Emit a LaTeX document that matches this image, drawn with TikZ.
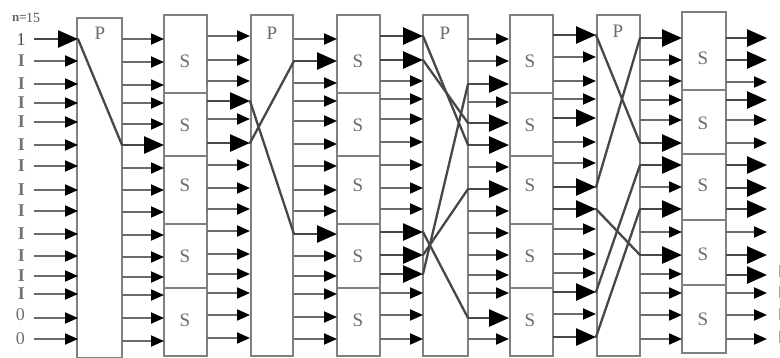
\documentclass[tikz,border=0pt]{standalone}
\usepackage{fontspec}
\setmainfont{Liberation Serif}
\usetikzlibrary{arrows.meta}
\tikzset{
  x=1pt,y=-1pt,
  boxfr/.style={draw=black!50,line width=1.9pt,fill=white,inner sep=0pt,minimum width=0pt},
  wire/.style={draw=black!58,line width=1.9pt,-{Triangle[length=13pt,width=11pt,color=black]}},
  heavy/.style={draw=black!72,line width=2.6pt,-{Triangle[length=20pt,width=17pt,color=black]}},
  cross/.style={draw=black!72,line width=2.3pt,line cap=round},
  letter/.style={text=black!58,font=\fontsize{19}{19}\selectfont,inner sep=0pt},
  bit/.style={text=black!55,font=\fontsize{18}{18}\selectfont,inner sep=0pt},
  clipmark/.style={draw=black!35,line width=1.5pt},
}
% #1 col, #2 x left, #3 x right, #4 y list, #5 heavy rows (with commas around)
\newcommand{\wirecol}[5]{%
  \foreach \yy [count=\r from 0] in {#4} {%
    \coordinate (L#1r\r) at (#2,\yy);
    \coordinate (R#1r\r) at (#3,\yy);
    \def\st{wire}%
    \foreach \h in {#5} {\ifnum\h=\r\global\def\gst{1}\fi}%
    \ifx\gst\undefined\def\st{wire}\else\def\st{heavy}\fi
    \global\let\gst\undefined
    \draw[\st] (L#1r\r) -- (R#1r\r);
  }%
}
\begin{document}
\begin{tikzpicture}
\useasboundingbox (0,0) rectangle (780,357);
\fill[white] (0,0) rectangle (780,357);
% permutation boxes
\draw[boxfr] (77,18) rectangle (122,358);
\draw[boxfr] (251,15) rectangle (293,356);
\draw[boxfr] (423,15) rectangle (468,356);
\draw[boxfr] (597,15) rectangle (640,356);
\node[letter] (p1) at (100,33) {P};
\node[letter] (p2) at (272,33) {P};
\node[letter] (p3) at (445,33) {P};
\node[letter] (p4) at (618,31) {P};
% S columns
\foreach \xa/\xb/\d/\m in {164/207/a/185,337/380/b/358,510/553/c/530}{
  \draw[boxfr] (\xa,15) rectangle (\xb,93);
  \draw[boxfr] (\xa,93) rectangle (\xb,156);
  \draw[boxfr] (\xa,156) rectangle (\xb,224);
  \draw[boxfr] (\xa,224) rectangle (\xb,288);
  \draw[boxfr] (\xa,288) rectangle (\xb,356);
  \node[letter] (s\d1) at (\m,61) {S};
  \node[letter] (s\d2) at (\m,125) {S};
  \node[letter] (s\d3) at (\m,185) {S};
  \node[letter] (s\d4) at (\m,256) {S};
  \node[letter] (s\d5) at (\m,320) {S};
}
\draw[boxfr] (682,12) rectangle (726,90);
\draw[boxfr] (682,90) rectangle (726,154);
\draw[boxfr] (682,154) rectangle (726,220);
\draw[boxfr] (682,220) rectangle (726,285);
\draw[boxfr] (682,285) rectangle (726,353);
\node[letter] (sd1) at (703,58) {S};
\node[letter] (sd2) at (703,123) {S};
\node[letter] (sd3) at (703,185) {S};
\node[letter] (sd4) at (703,254) {S};
\node[letter] (sd5) at (703,319) {S};
% wires
\wirecol{0}{34}{78}{39,61,84,103,122,145,166,190,211,234,256,276,294,318,339}{0}
\wirecol{1}{122}{164}{39,62,85,103,124,145,168,190,212,235,257,277,295,318,341}{5}
\wirecol{2}{207}{250}{36,60,81,101,119,143,165,188,209,231,254,274,293,315,338}{3,5}
\wirecol{3}{294}{337}{39,61,83,101,121,144,166,190,211,234,256,276,294,317,339}{1,9}
\wirecol{4}{380}{423}{36,60,81,99,119,142,165,188,209,232,255,274,293,315,339}{0,1,9,10,11}
\wirecol{5}{468}{509}{39,61,84,102,123,145,167,189,211,233,255,275,293,318,339}{2,4,5,7,13}
\wirecol{6}{553}{596}{35,57,81,99,118,142,163,187,209,229,254,273,292,314,337}{0,4,7,8,12,14}
\wirecol{7}{640}{682}{38,60,81,100,120,143,165,187,209,232,255,274,293,315,339}{0,5,6,8,10}
\wirecol{8}{726}{767}{38,60,82,100,120,143,165,188,209,232,255,275,293,315,339}{0,1,3,6,7,8,10,11}
% permutation crossings
\draw[cross] (R0r0) -- (L1r5);
\draw[cross] (R2r3) -- (L3r9);
\draw[cross] (R2r5) -- (L3r1);
\draw[cross] (R4r0) -- (L5r5);
\draw[cross] (R4r1) -- (L5r4);
\draw[cross] (R4r9) -- (L5r13);
\draw[cross] (R4r10) -- (L5r7);
\draw[cross] (R4r11) -- (L5r2);
\draw[cross] (R6r0) -- (L7r5);
\draw[cross] (R6r7) -- (L7r0);
\draw[cross] (R6r8) -- (L7r10);
\draw[cross] (R6r12) -- (L7r6);
\draw[cross] (R6r14) -- (L7r8);
% labels
\node[bit,text=black!60,font=\bfseries\fontsize{13}{13}\selectfont,anchor=east] (n) at (27,18.5) {n=};
\node[bit,text=black!65,font=\fontsize{14}{14}\selectfont,anchor=west] (n2) at (26,17.5) {15};
\foreach \yy [count=\i] in {61,84,103,122,145,166,190,211,234,256,276,294}{
  \node[bit,font=\bfseries\fontsize{18}{18}\selectfont] (b\i) at (21.5,\yy) {I};
}
\node[bit,text=black!70] (one) at (21,40) {1};
\node[bit] (z1) at (20.5,315) {0};
\node[bit] (z2) at (20.5,339) {0};
% clipped marks at the right edge
\foreach \yy in {271,292,314,337}{
  \draw[clipmark] (779.3,\yy-6) -- (779.3,\yy+6);
}
\end{tikzpicture}
\end{document}
